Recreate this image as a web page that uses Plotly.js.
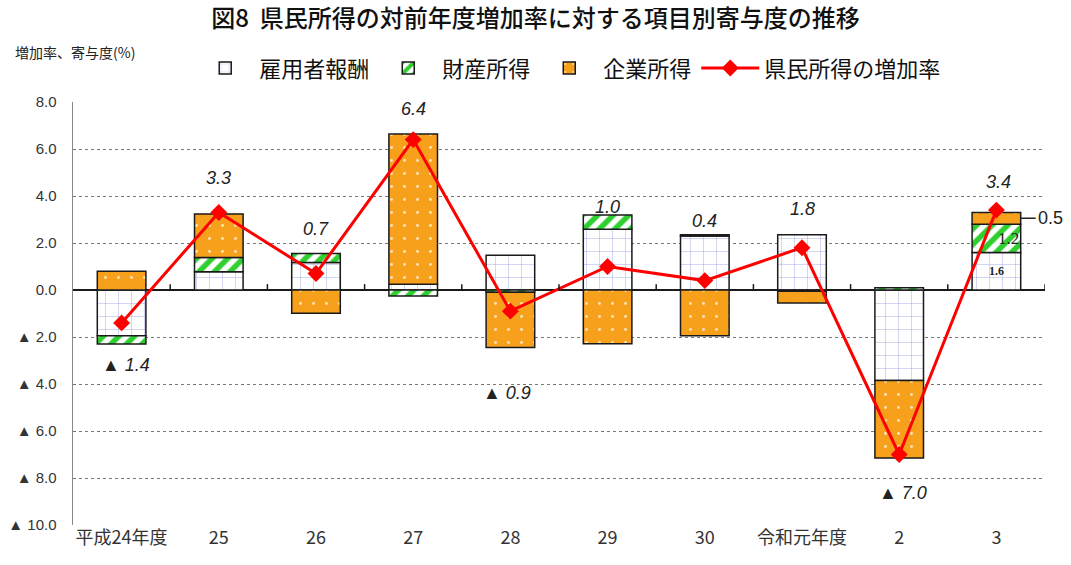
<!DOCTYPE html>
<html>
<head>
<meta charset="utf-8">
<script src="https://cdn.plot.ly/plotly-3.0.1.min.js"></script>
<style>html,body{margin:0;padding:0;background:#fff;}#chart{width:1071px;height:565px;}</style>
</head>
<body>
<div id="chart"></div>
<script>
const categories = ['平成24年度','25','26','27','28','29','30','令和元年度','2','3'];
const employee  = [-1.95, 0.78, 1.17, 0.24, 1.48, 2.59, 2.30, 2.35, -3.85, 1.6];
const property  = [-0.35, 0.60, 0.38, -0.25, -0.10, 0.60, 0.05, -0.05, 0.10, 1.2];
const corporate = [0.80, 1.85, -0.99, 6.40, -2.35, -2.29, -1.95, -0.50, -3.30, 0.5];
const growth    = [-1.4, 3.3, 0.7, 6.4, -0.9, 1.0, 0.4, 1.8, -7.0, 3.4];
const yTickVals = [8, 6, 4, 2, 0, -2, -4, -6, -8, -10];

const fmt = v => (v < 0 ? '▲ ' : '') + Math.abs(v).toFixed(1);
const labelShift = [-42, 34, 45, 31, -82, 60, 60, 39, -38, 28];
const labelXShift = [4, 0, 0, 0, -3, 0, 0, 0, 4, 2];

const CJK = '"Noto Sans CJK JP", "Noto Sans", sans-serif';
const barLine = {color: '#1a1a1a', width: 1.5};

const traces = [
  {type: 'bar', name: '雇用者報酬', x: categories, y: employee, width: 0.5,
   marker: {color: '#ffffff', line: barLine,
            pattern: {shape: '+', fgcolor: '#9ea6e4', bgcolor: '#ffffff', size: 13, solidity: 0.07}}},
  {type: 'bar', name: '財産所得', x: categories, y: property, width: 0.5,
   marker: {color: '#ffffff', line: barLine,
            pattern: {shape: '/', fgcolor: '#2fcf2f', bgcolor: '#ffffff', size: 11, solidity: 0.5}}},
  {type: 'bar', name: '企業所得', x: categories, y: corporate, width: 0.5,
   marker: {color: '#f7a01c', line: barLine,
            pattern: {shape: '.', fgcolor: '#fde3b8', bgcolor: '#f7a01c', size: 13, solidity: 0.04}}},
  {type: 'scatter', mode: 'lines+markers', name: '県民所得の増加率', x: categories, y: growth,
   line: {color: '#ff0000', width: 3}, marker: {symbol: 'diamond', size: 13, color: '#ff0000'}}
];

const annotations = growth.map((v, i) => ({
  x: i, y: v, xref: 'x', yref: 'y', text: '<i>' + fmt(v) + '</i>', showarrow: false,
  yshift: labelShift[i], xshift: labelXShift[i],
  font: {family: 'Liberation Sans, Arial, sans-serif', size: 18, color: '#222'}
}));

// inner labels for last bar
const last = categories.length - 1;
annotations.push({x: last, y: employee[last] / 2, xref: 'x', yref: 'y', showarrow: false,
  text: '<b>' + employee[last].toFixed(1) + '</b>',
  font: {family: 'Liberation Serif, serif', size: 12, color: '#222'}});
annotations.push({x: last, y: employee[last] + property[last] / 2, xref: 'x', yref: 'y', showarrow: false,
  text: property[last].toFixed(1), xshift: 12,
  font: {family: 'Liberation Serif, serif', size: 17, color: '#222'}});
annotations.push({x: last + 0.25, y: employee[last] + property[last] + corporate[last] / 2, xref: 'x', yref: 'y',
  showarrow: true, arrowhead: 0, arrowwidth: 1.5, arrowcolor: '#222', ax: 15, ay: 0,
  xanchor: 'left', text: corporate[last].toFixed(1),
  font: {family: 'Liberation Sans, Arial, sans-serif', size: 18, color: '#222'}});
// axis title
annotations.push({xref: 'paper', yref: 'paper', x: -0.062, y: 1.118, xanchor: 'left', yanchor: 'middle',
  showarrow: false, text: '増加率、寄与度(%)',
  font: {family: CJK, size: 14, color: '#222'}});

// boundary tick marks on zero line
const shapes = categories.map((c, i) => ({
  type: 'line', xref: 'x', yref: 'y', x0: i + 0.5, x1: i + 0.5, y0: 0, y1: 0.25,
  line: {color: '#1a1a1a', width: 1.5}
}));

const layout = {
  width: 1071, height: 565,
  margin: {l: 73, r: 26, t: 102, b: 40},
  paper_bgcolor: '#ffffff', plot_bgcolor: '#ffffff',
  barmode: 'relative', bargap: 0.5,
  title: {text: '図8  県民所得の対前年度増加率に対する項目別寄与度の推移',
          x: 0.5, xref: 'container', y: 1 - 19 / 565, yref: 'container', yanchor: 'middle',
          font: {family: CJK, size: 24, color: '#111', weight: 500}},
  showlegend: true,
  legend: {orientation: 'h', x: 0.51, xanchor: 'center', y: 1.08, yanchor: 'middle',
           font: {family: CJK, size: 22, color: '#111'}, itemwidth: 58, traceorder: 'normal',
           bgcolor: 'rgba(0,0,0,0)'},
  xaxis: {type: 'category', range: [-0.5, categories.length - 0.5], autorange: false,
          showgrid: false, showline: false, ticks: '', zeroline: false,
          tickfont: {family: CJK, size: 18, color: '#333'}, fixedrange: true},
  yaxis: {range: [-10, 8], autorange: false, tickvals: yTickVals, ticktext: yTickVals.map(fmt),
          showgrid: true, gridcolor: '#777', griddash: 'dot', gridwidth: 1,
          zeroline: true, zerolinecolor: '#1a1a1a', zerolinewidth: 1.5,
          showline: true, linecolor: '#888', linewidth: 1.5, ticks: '',
          tickfont: {family: 'Liberation Sans, Arial, sans-serif', size: 15, color: '#333'},
          ticklabelstandoff: 12, fixedrange: true},
  annotations: annotations,
  shapes: shapes
};

Plotly.newPlot('chart', traces, layout, {displayModeBar: false, staticPlot: true});
</script>
</body>
</html>
